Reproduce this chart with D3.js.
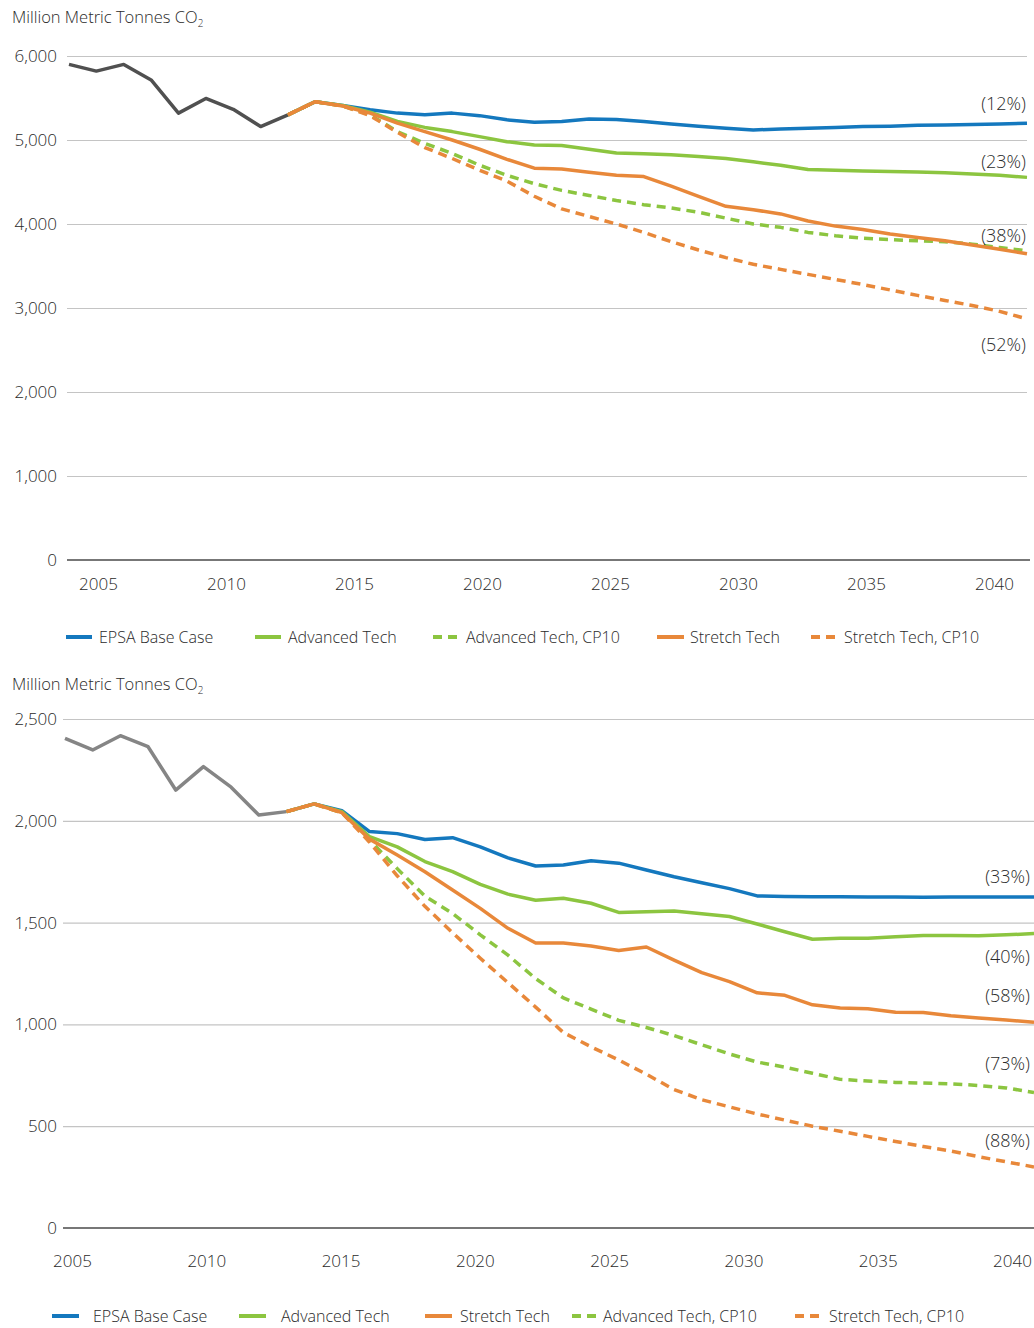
<!DOCTYPE html>
<html>
<head>
<meta charset="utf-8">
<script src="https://cdn.jsdelivr.net/npm/d3@7"></script>
<style>
body { margin:0; background:#fff; }
svg text { font-family: "Open Sans", "Noto Sans", sans-serif; fill:#2a2a2a; font-weight:300; }
</style>
</head>
<body>
<svg id="chart" width="1034" height="1328"></svg>
<script>
// years
var histYears = [2005,2006,2007,2008,2009,2010,2011,2012,2013];
var projYears = [2013,2014,2015,2016,2017,2018,2019,2020,2021,2022,2023,2024,2025,2026,2027,2028,2029,2030,2031,2032,2033,2034,2035,2036,2037,2038,2039,2040];
var tickYears = [2005,2010,2015,2020,2025,2030,2035,2040];

// top panel (all sectors)
var topHist    = [5900,5820,5900,5715,5320,5495,5365,5160,5300];
var topBase    = [5300,5456,5410,5360,5320,5300,5320,5290,5240,5210,5220,5250,5245,5220,5190,5165,5140,5120,5130,5140,5150,5160,5165,5175,5180,5185,5190,5200];
var topAdv     = [5300,5456,5410,5330,5220,5150,5100,5040,4980,4940,4935,4890,4845,4835,4825,4805,4780,4740,4700,4650,4640,4630,4625,4620,4610,4595,4580,4555];
var topAdvCP   = [5300,5456,5405,5300,5100,4960,4840,4700,4580,4480,4400,4340,4280,4230,4190,4140,4070,4000,3960,3900,3860,3830,3815,3800,3790,3760,3720,3680];
var topStr     = [5300,5456,5405,5320,5200,5100,5000,4890,4770,4665,4655,4615,4580,4565,4450,4330,4210,4170,4120,4035,3975,3935,3880,3840,3800,3750,3700,3645];
var topStrCP   = [5300,5456,5405,5290,5090,4910,4780,4640,4510,4330,4180,4090,4000,3900,3790,3690,3600,3520,3460,3400,3340,3280,3215,3150,3090,3030,2960,2870];
var topTicks   = [0,1000,2000,3000,4000,5000,6000];
var topPctText = ["(12%)","(23%)","(38%)","(52%)"];
var topPctAt   = [5440,4750,3870,2570];

// bottom panel (power sector)
var botHist    = [2405,2348,2418,2364,2151,2266,2165,2028,2045];
var botBase    = [2045,2083,2050,1947,1937,1908,1917,1872,1818,1778,1783,1804,1792,1758,1725,1696,1667,1631,1628,1627,1627,1626,1626,1625,1626,1626,1626,1626];
var botAdv     = [2045,2083,2045,1922,1872,1800,1750,1688,1640,1610,1620,1595,1550,1553,1557,1543,1530,1493,1455,1418,1423,1423,1430,1437,1437,1435,1440,1446];
var botStr     = [2045,2083,2040,1910,1832,1750,1660,1570,1472,1400,1400,1385,1363,1380,1316,1254,1210,1155,1143,1096,1080,1077,1060,1058,1042,1032,1022,1010];
var botAdvCP   = [2045,2083,2040,1906,1765,1630,1545,1440,1340,1225,1130,1075,1020,985,945,900,855,815,790,760,730,722,715,712,708,700,688,665];
var botStrCP   = [2045,2083,2040,1895,1730,1580,1450,1325,1205,1085,960,890,825,755,680,630,595,560,530,500,475,450,425,400,378,350,325,300];
var botTicks   = [0,500,1000,1500,2000,2500];
var botPctText = ["(33%)","(40%)","(58%)","(73%)","(88%)"];
var botPctAt   = [1730,1335,1145,810,432];

var blue = "#1478be", green = "#8cc540", orange = "#e8883a";

var svg = d3.select("#chart");

function zip(years, vals){
	return years.map(function(y,i){ return {year:y, value:vals[i]}; });
}

function drawPanel(p){
	var g = svg.append("g");

	var x = d3.scaleLinear().domain([2005,2040]).range(p.xRange);
	var xLab = d3.scaleLinear().domain([2005,2040]).range(p.labRange);
	var y = d3.scaleLinear().domain([0, p.yMax]).range(p.yRange);

	// grid
	g.append("g")
		.attr("class","grid")
		.attr("transform","translate(" + p.gridX[0] + ",0)")
		.call(d3.axisRight(y).tickValues(p.ticks.filter(function(d){ return d>0; })).tickSize(p.gridX[1]-p.gridX[0]).tickFormat(""))
		.call(function(s){ s.select(".domain").remove(); s.selectAll("line").attr("stroke","#c4c4c4").attr("stroke-width",1.2); });

	// zero line
	g.append("line")
		.attr("x1",p.gridX[0]).attr("x2",p.axisEnd)
		.attr("y1",y(0)).attr("y2",y(0))
		.attr("stroke","#777").attr("stroke-width",2);

	// y labels
	g.append("g")
		.attr("transform","translate(" + p.gridX[0] + ",0)")
		.call(d3.axisLeft(y).tickValues(p.ticks).tickFormat(d3.format(",")).tickSize(0).tickPadding(p.gridX[0]-57))
		.call(function(s){ s.select(".domain").remove(); s.selectAll("text").attr("font-size",17).attr("fill","#2a2a2a").attr("font-family",null); });

	// x labels
	g.append("g")
		.attr("transform","translate(0," + y(0) + ")")
		.call(d3.axisBottom(xLab).tickValues(tickYears).tickFormat(d3.format("d")).tickSize(0).tickPadding(p.xPad))
		.call(function(s){ s.select(".domain").remove(); s.selectAll("text").attr("font-size",17).attr("fill","#2a2a2a").attr("font-family",null); });

	// title
	var t = g.append("text").attr("x",12).attr("y",p.titleY).attr("font-size",16.5);
	t.append("tspan").text("Million Metric Tonnes CO");
	t.append("tspan").attr("font-size",10).attr("dy",4).text("2");

	var line = d3.line().x(function(d){ return x(d.year); }).y(function(d){ return y(d.value); });

	g.append("path")
		.datum(zip(histYears, p.hist))
		.attr("d", line)
		.attr("fill","none").attr("stroke",p.histColor).attr("stroke-width",3.5)
		.attr("stroke-linejoin","round");

	p.series.forEach(function(s){
		g.append("path")
			.datum(zip(projYears, s.values))
			.attr("d", line)
			.attr("fill","none").attr("stroke",s.color).attr("stroke-width",3.5)
			.attr("stroke-linejoin","round")
			.attr("stroke-dasharray", s.dashed ? "9,6" : null);
	});

	// percent labels
	p.pctText.forEach(function(txt,i){
		g.append("text")
			.attr("x",p.pctX).attr("y",y(p.pctAt[i]))
			.attr("text-anchor","end").attr("dominant-baseline","central")
			.attr("font-size",18).text(txt);
	});

	// legend
	p.legend.forEach(function(l){
		var s = p.series.filter(function(d){ return d.name==l.name; })[0];
		g.append("line")
			.attr("x1",l.x).attr("x2",l.x+l.len)
			.attr("y1",p.legendY).attr("y2",p.legendY)
			.attr("stroke",s.color).attr("stroke-width",4)
			.attr("stroke-dasharray", s.dashed ? "9,6" : null);
		g.append("text")
			.attr("x",l.tx).attr("y",p.legendY)
			.attr("dominant-baseline","central")
			.attr("font-size",16).text(s.name);
	});
}

drawPanel({
	yMax:6000, yRange:[560,56], xRange:[69,1027], labRange:[98,994],
	gridX:[67,1027], axisEnd:1030, ticks:topTicks, xPad:18, titleY:23,
	hist:topHist, histColor:"#505050",
	series:[
		{name:"EPSA Base Case", values:topBase, color:blue, dashed:false},
		{name:"Advanced Tech", values:topAdv, color:green, dashed:false},
		{name:"Advanced Tech, CP10", values:topAdvCP, color:green, dashed:true},
		{name:"Stretch Tech", values:topStr, color:orange, dashed:false},
		{name:"Stretch Tech, CP10", values:topStrCP, color:orange, dashed:true}
	],
	pctText:topPctText, pctAt:topPctAt, pctX:1026,
	legendY:637,
	legend:[
		{name:"EPSA Base Case", x:66, len:26, tx:99},
		{name:"Advanced Tech", x:255, len:26, tx:288},
		{name:"Advanced Tech, CP10", x:433, len:25, tx:466},
		{name:"Stretch Tech", x:657, len:27, tx:690},
		{name:"Stretch Tech, CP10", x:811, len:25, tx:844}
	]
});

drawPanel({
	yMax:2500, yRange:[1228,719], xRange:[65,1034], labRange:[72,1012],
	gridX:[63,1034], axisEnd:1034, ticks:botTicks, xPad:27, titleY:690,
	hist:botHist, histColor:"#858585",
	series:[
		{name:"EPSA Base Case", values:botBase, color:blue, dashed:false},
		{name:"Advanced Tech", values:botAdv, color:green, dashed:false},
		{name:"Advanced Tech, CP10", values:botAdvCP, color:green, dashed:true},
		{name:"Stretch Tech", values:botStr, color:orange, dashed:false},
		{name:"Stretch Tech, CP10", values:botStrCP, color:orange, dashed:true}
	],
	pctText:botPctText, pctAt:botPctAt, pctX:1030,
	legendY:1316,
	legend:[
		{name:"EPSA Base Case", x:52, len:27, tx:93},
		{name:"Advanced Tech", x:239, len:27, tx:281},
		{name:"Stretch Tech", x:425, len:27, tx:460},
		{name:"Advanced Tech, CP10", x:572, len:24, tx:603},
		{name:"Stretch Tech, CP10", x:795, len:24, tx:829}
	]
});
</script>
</body>
</html>
